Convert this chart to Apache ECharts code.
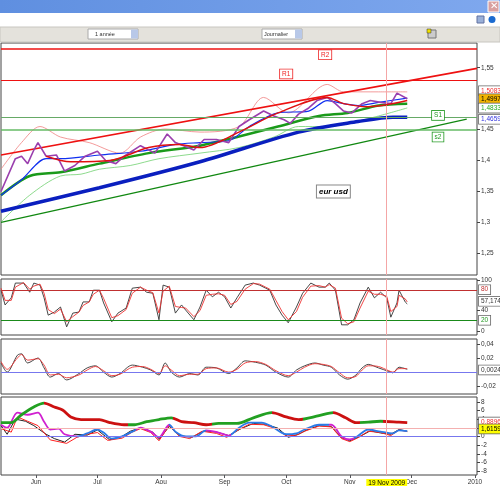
<!DOCTYPE html>
<html>
<head>
<meta charset="utf-8">
<script src="https://cdn.jsdelivr.net/npm/echarts@6/dist/echarts.min.js"></script>
<style>html,body{margin:0;padding:0;background:#fff}#chart{width:500px;height:486px}</style>
</head>
<body>
<div id="chart"></div>
<script>
// days counted from 15 May 2009
const monthDays = [17, 47, 78, 109, 139, 170, 200, 231];
const monthLabels = ['Jun', 'Jul', 'Aou', 'Sep', 'Oct', 'Nov', 'Dec', '2010'];
const cursorDay = 188;
const cursorLabel = '19 Nov 2009';

const priceTicks = [1.25, 1.3, 1.35, 1.4, 1.45, 1.55];
const stochTicks = [0, 40, 100];
const macdTicks = [-0.02, 0.02, 0.04];
const dmiTicks = [-8, -6, -4, -2, 0, 2, 4, 6, 8];

const price = [[0,1.35],[7,1.403],[10,1.407],[13,1.395],[16,1.417],[18,1.429],[22,1.407],[27,1.409],[31,1.383],[36,1.392],[41,1.407],[47,1.415],[51,1.40],[56,1.395],[60,1.407],[68,1.424],[75,1.412],[81,1.443],[85,1.429],[89,1.424],[94,1.417],[99,1.434],[105,1.434],[111,1.429],[116,1.455],[121,1.466],[128,1.48],[133,1.472],[138,1.466],[141,1.46],[145,1.475],[150,1.485],[154,1.497],[159,1.502],[163,1.492],[167,1.48],[171,1.477],[176,1.492],[180,1.497],[185,1.494],[190,1.492],[193,1.509],[198,1.50]];
const maSlow = [[0,1.318],[48,1.356],[97,1.398],[145,1.446],[174,1.463],[191,1.470],[198,1.470]];
const maMid = [[0,1.344],[14,1.375],[29,1.381],[48,1.395],[72,1.412],[97,1.424],[116,1.439],[135,1.455],[155,1.472],[169,1.477],[184,1.489],[198,1.492]];
const maFast = [[0,1.344],[10,1.369],[22,1.403],[29,1.403],[48,1.409],[68,1.415],[85,1.426],[97,1.429],[111,1.432],[121,1.455],[135,1.477],[150,1.480],[159,1.497],[167,1.492],[174,1.489],[184,1.494],[198,1.501]];
const maShort = [[22,1.407],[34,1.398],[53,1.40],[72,1.421],[87,1.426],[97,1.421],[116,1.446],[135,1.477],[159,1.502],[167,1.492],[179,1.487],[198,1.497]];
const bandUp = [[0,1.386],[10,1.429],[19,1.455],[29,1.438],[43,1.429],[58,1.412],[68,1.438],[80,1.451],[97,1.446],[116,1.455],[128,1.502],[140,1.477],[159,1.523],[167,1.511],[184,1.511],[198,1.511]];
const bandLow = [[0,1.301],[14,1.344],[29,1.375],[39,1.378],[48,1.386],[63,1.392],[77,1.403],[97,1.412],[116,1.421],[133,1.438],[145,1.455],[159,1.455],[169,1.460],[184,1.472],[198,1.485]];
const trendUp = [[0,1.409],[232,1.549]];
const trendLow = [[0,1.30],[227,1.467]];
const levels = { R2: 1.579, R1: 1.531, S1: 1.468, s2: 1.448 };

const stochK = [[0,80],[2,51],[5,65],[7,94],[11,94],[14,76],[16,94],[19,90],[21,65],[23,31],[26,37],[29,47],[32,8],[35,35],[38,37],[40,57],[43,57],[45,80],[48,80],[50,55],[54,18],[57,35],[61,45],[64,84],[68,86],[71,76],[74,74],[77,22],[79,90],[82,86],[85,35],[88,51],[90,41],[94,22],[97,47],[100,80],[103,67],[106,76],[109,67],[112,45],[115,65],[119,90],[123,94],[126,90],[129,84],[131,80],[134,51],[137,31],[140,16],[144,47],[147,74],[151,94],[155,86],[158,86],[160,94],[163,80],[166,12],[169,12],[172,22],[175,55],[179,86],[182,65],[185,76],[188,65],[190,27],[193,55],[194,80],[197,57],[198,53]];
const stochD = [[0,84],[2,60],[5,60],[7,86],[11,95],[14,82],[16,88],[19,92],[21,74],[23,42],[26,34],[29,43],[32,18],[35,28],[38,37],[40,50],[43,57],[45,72],[48,80],[50,64],[54,26],[57,30],[61,42],[64,74],[68,86],[71,80],[74,75],[77,35],[79,78],[82,88],[85,48],[88,46],[90,45],[94,28],[97,40],[100,70],[103,72],[106,73],[109,70],[112,52],[115,58],[119,82],[123,93],[126,92],[129,86],[131,82],[134,60],[137,38],[140,22],[144,38],[147,66],[151,88],[155,89],[158,86],[160,91],[163,84],[166,25],[169,14],[172,18],[175,45],[179,78],[182,72],[185,72],[188,68],[190,38],[193,48],[194,70],[197,63],[198,57]];

const macd = [[0,0.013],[3,0],[8,0.024],[10,0.026],[13,0.013],[18,0.02],[21,0.006],[24,-0.007],[28,-0.002],[32,-0.011],[38,-0.002],[42,0.006],[46,0.009],[50,0],[54,-0.007],[58,-0.002],[64,0.01],[69,0.007],[73,0.003],[77,-0.004],[80,0.013],[83,0],[87,-0.007],[92,-0.002],[96,-0.004],[100,0.007],[105,0.006],[111,-0.002],[115,0.006],[119,0.016],[124,0.014],[129,0.01],[134,0],[140,-0.007],[144,0.003],[148,0.009],[153,0.013],[157,0.01],[161,0.007],[165,-0.004],[169,-0.01],[173,-0.004],[176,0.006],[179,0.011],[184,0.006],[189,0.001],[191,-0.001],[194,0.007],[198,0.004]];
const macdSig = [[0,0.015],[3,0.004],[8,0.02],[10,0.025],[13,0.017],[18,0.019],[21,0.01],[24,-0.004],[28,-0.003],[32,-0.008],[38,-0.004],[42,0.003],[46,0.008],[50,0.002],[54,-0.005],[58,-0.003],[64,0.007],[69,0.008],[73,0.004],[77,-0.002],[80,0.009],[83,0.003],[87,-0.005],[92,-0.003],[96,-0.003],[100,0.005],[105,0.006],[111,0],[115,0.004],[119,0.013],[124,0.015],[129,0.011],[134,0.002],[140,-0.005],[144,0],[148,0.007],[153,0.012],[157,0.011],[161,0.008],[165,-0.001],[169,-0.008],[173,-0.006],[176,0.003],[179,0.009],[184,0.008],[189,0.002],[191,0],[194,0.005],[198,0.005]];

const adx = [[0,3.2],[5,3.2],[10,5],[16,6.8],[21,7.7],[26,6.8],[30,6.1],[34,4.5],[39,3.9],[48,3.9],[53,3.2],[60,2.7],[65,2.7],[71,3.4],[77,3.9],[83,4.3],[88,3.4],[94,3.2],[100,2.7],[106,3],[115,3],[123,4.3],[132,5.5],[139,4.5],[145,3.9],[155,4.8],[162,5.5],[168,4.3],[173,3.2],[179,3.3],[185,3.5],[194,3.3],[198,3.2]];
const diPlus = [[0,2.7],[3,2],[8,5.5],[13,5],[18,5.5],[21,3.4],[24,1.6],[28,1.8],[31,0.5],[37,0],[42,0.7],[47,1.6],[50,0.9],[54,-0.5],[59,0],[64,1.1],[68,2],[73,1.1],[77,-0.2],[82,2.7],[85,1.1],[90,0],[95,0],[100,1.4],[106,0.9],[111,0.2],[116,2],[121,3.2],[127,3.2],[132,2.3],[139,0.5],[144,0.7],[148,1.6],[155,2.7],[161,2.7],[166,0],[170,-0.7],[173,-0.2],[179,1.6],[185,1.1],[191,0.7],[194,1.4],[198,1.2]];
const diRed = [[0,1.8],[5,1.0],[8,4.5],[13,3.5],[18,2.5],[24,-0.8],[32,-1.6],[37,-0.2],[42,0.5],[47,0.9],[52,-0.9],[59,-0.4],[64,1],[68,1.8],[73,0.9],[77,-1],[82,2.5],[87,0],[92,-0.5],[98,1.2],[105,0.7],[110,-0.2],[116,1.6],[121,2.8],[128,2.7],[134,1.8],[139,0.1],[144,0.3],[148,1.2],[155,2.4],[161,2.2],[166,-0.5],[170,-1.2],[174,-0.3],[179,1.2],[185,0.9],[190,0.2],[194,1.5],[198,1.1]];
const diBlack = [[0,2.5],[3,0.5],[7,4],[12,3.5],[16,2.5],[22,0.5],[26,-0.5],[31,-1.3],[36,0.5],[42,0.3],[47,1.5],[53,-0.8],[59,0],[63,1.2],[68,2],[74,1],[77,-0.7],[82,2.3],[87,0.2],[93,-0.2],[99,1.3],[105,1],[111,0.2],[117,1.8],[123,3],[129,2.8],[135,1.9],[140,-0.2],[145,0.5],[149,1.5],[155,2.5],[161,2.3],[166,-0.3],[170,-1],[175,0],[180,1.3],[185,0.8],[190,0.5],[194,1.6],[198,1.2]];

const FONT = 'Liberation Sans';
const chart = echarts.init(document.getElementById('chart'));

const tops = [43, 279, 339, 397];
const heights = [232, 56, 55, 79];
const grids = tops.map((t, i) => ({
  left: 1, right: 23, top: t, height: heights[i],
  show: true, borderColor: '#444', borderWidth: 1, backgroundColor: '#fff'
}));

const xAxes = tops.map((t, i) => ({
  type: 'value', gridIndex: i, min: 0, max: 232,
  splitLine: { show: false }, axisLine: { show: false, onZero: false },
  axisTick: { show: i === 3, customValues: monthDays, length: 3 },
  axisLabel: {
    show: i === 3, customValues: monthDays, fontSize: 6.5, fontFamily: FONT, color: '#333', margin: 4,
    formatter: v => monthLabels[monthDays.indexOf(Math.round(v))] || ''
  }
}));

function yAx(i, min, max, ticks, fmt) {
  return {
    type: 'value', gridIndex: i, min, max, position: 'right',
    splitLine: { show: false }, axisLine: { show: false, onZero: false },
    axisTick: { show: true, customValues: ticks, length: 3, lineStyle: { color: '#444' } },
    axisLabel: { customValues: ticks, fontSize: 6.5, fontFamily: FONT, color: '#333', margin: 4, formatter: fmt }
  };
}
const comma = v => String(+v.toFixed(4)).replace('.', ',');
const yAxes = [
  yAx(0, 1.215, 1.59, priceTicks, comma),
  yAx(1, -8, 102, stochTicks, v => String(v)),
  yAx(2, -0.031, 0.047, macdTicks, comma),
  yAx(3, -8.9, 9.1, dmiTicks, v => String(v))
];

const CURSOR_STYLE = { color: '#f4a6a6', width: 1, type: 'solid' };
const hline = (v, color, w) => ({ yAxis: v, lineStyle: { color, width: w, type: 'solid' } });
const marks = (data) => ({ silent: true, symbol: 'none', animation: false, label: { show: false }, data });

function line(i, data, color, width, extra) {
  const s = {
    type: 'line', xAxisIndex: i, yAxisIndex: i, data, symbol: 'none', smooth: 0.3,
    lineStyle: { width }, z: 3, animation: false
  };
  if (color) { s.lineStyle.color = color; s.itemStyle = { color }; }
  return Object.assign(s, extra || {});
}

const series = [
  line(0, bandUp, '#f08080', 0.8),
  line(0, bandLow, '#70d070', 0.8),
  line(0, trendUp, '#ee1111', 1.6, { smooth: false }),
  line(0, trendLow, '#118811', 1.2, { smooth: false,
    markLine: marks([hline(levels.R2, '#ee1111', 1.5), hline(levels.R1, '#ee1111', 1.2),
                     hline(levels.S1, '#66aa66', 1), hline(levels.s2, '#66bb66', 1.5)]) }),
  line(0, maSlow, '#0a1fbf', 3.5),
  line(0, maMid, '#1a9a1a', 2.5),
  line(0, maFast, '#1030f0', 1.2),
  line(0, price, '#9a3fae', 1.6, { smooth: false, z: 4,
    markLine: marks([{ xAxis: cursorDay, lineStyle: CURSOR_STYLE }]) }),
  line(0, maShort, '#e01010', 1.4, { z: 5 }),
  line(1, stochK, '#333', 0.9, { smooth: false,
    markLine: marks([hline(80, '#c03030', 1.2), hline(20, '#1a8a1a', 1.2), { xAxis: cursorDay, lineStyle: CURSOR_STYLE }]) }),
  line(1, stochD, '#ee3333', 0.9, { smooth: false }),
  line(2, macd, '#333', 0.9, {
    markLine: marks([hline(0, '#7777ee', 1), { xAxis: cursorDay, lineStyle: CURSOR_STYLE }]) }),
  line(2, macdSig, '#ee3333', 0.9),
  line(3, diBlack, '#222', 1, { smooth: false,
    markLine: marks([hline(0, '#7777ee', 1), hline(1.8, '#f4b0b0', 1),
      { xAxis: cursorDay, lineStyle: CURSOR_STYLE,
        label: { show: true, position: 'start', formatter: cursorLabel, fontSize: 6.5, fontFamily: FONT,
          color: '#000', backgroundColor: '#ffff00', padding: [1, 2], distance: 4 } }]) }),
  line(3, diRed, '#ff2020', 1, { smooth: false }),
  line(3, diPlus, null, 1.8),
  line(3, adx, null, 2.8)
];

const idxPlus = series.length - 2, idxAdx = series.length - 1;

chart.setOption({
  animation: false,
  grid: grids, xAxis: xAxes, yAxis: yAxes, series,
  visualMap: [
    { show: false, type: 'piecewise', seriesIndex: idxPlus, dimension: 0,
      pieces: [{ lt: 37, color: '#d020d0' }, { gte: 37, lt: 66, color: '#2a7ae8' }, { gte: 66, lt: 82, color: '#d020d0' },
               { gte: 82, lt: 100, color: '#2a7ae8' }, { gte: 100, lt: 112, color: '#d020d0' }, { gte: 112, lt: 160, color: '#2a7ae8' },
               { gte: 160, lt: 172, color: '#d020d0' }, { gte: 172, color: '#2a7ae8' }] },
    { show: false, type: 'piecewise', seriesIndex: idxAdx, dimension: 0,
      pieces: [{ lt: 21, color: '#22a022' }, { gte: 21, lt: 62, color: '#cc1111' }, { gte: 62, lt: 84, color: '#22a022' },
               { gte: 84, lt: 103, color: '#cc1111' }, { gte: 103, lt: 132, color: '#22a022' }, { gte: 132, lt: 147, color: '#cc1111' },
               { gte: 147, lt: 162, color: '#22a022' }, { gte: 162, lt: 175, color: '#cc1111' }, { gte: 175, lt: 186, color: '#22a022' },
               { gte: 186, color: '#cc1111' }] }
  ]
});

// chrome and value tags
const px = (i, d, v) => chart.convertToPixel({ xAxisIndex: i, yAxisIndex: i }, [d, v]);
function tag(i, v, text, color, bg) {
  const p = px(i, 0, v);
  return { type: 'text', x: 479, y: p[1] - 5, z: 20,
    style: { text, fontSize: 6.5, fontFamily: FONT, fill: color, backgroundColor: bg || '#fff',
      borderColor: '#666', borderWidth: 0.8, padding: [1, 2] } };
}
function box(i, d, v, text, color) {
  const p = px(i, d, v);
  return { type: 'text', x: p[0], y: p[1], z: 20,
    style: { text, fontSize: 6.5, fontFamily: FONT, fill: color, backgroundColor: '#fff',
      borderColor: color, borderWidth: 0.8, padding: [1, 2], align: 'center', verticalAlign: 'middle' } };
}
const ep = px(0, 162, 1.35);
chart.setOption({
  graphic: [
    { type: 'rect', shape: { x: 0, y: 0, width: 500, height: 13 }, style: {
      fill: new echarts.graphic.LinearGradient(0, 0, 1, 0, [{ offset: 0, color: '#5f8fe0' }, { offset: 1, color: '#7fa8ee' }]) } },
    { type: 'rect', shape: { x: 488, y: 1, width: 11, height: 11 }, style: { fill: '#d9a0a0', stroke: '#fff' } },
    { type: 'text', x: 490, y: 1, style: { text: '✕', fontSize: 10, fill: '#fff', fontFamily: FONT } },
    { type: 'rect', shape: { x: 477, y: 16, width: 7, height: 7 }, style: { fill: '#9ab0d8', stroke: '#6070a0' } },
    { type: 'circle', shape: { cx: 492, cy: 19.5, r: 3.5 }, style: { fill: '#1a6ad0' } },
    { type: 'rect', shape: { x: 0, y: 27, width: 500, height: 15 }, style: { fill: '#e4e2dc', stroke: '#c8c6c0' } },
    { type: 'rect', shape: { x: 88, y: 29, width: 50, height: 10 }, style: { fill: '#fff', stroke: '#aaa' } },
    { type: 'text', x: 95, y: 31, style: { text: '1 année', fontSize: 5.5, fontFamily: FONT, fill: '#333' } },
    { type: 'rect', shape: { x: 131, y: 29.5, width: 7, height: 9 }, style: { fill: '#b8c8e8' } },
    { type: 'rect', shape: { x: 262, y: 29, width: 40, height: 10 }, style: { fill: '#fff', stroke: '#aaa' } },
    { type: 'text', x: 264, y: 31, style: { text: 'Journalier', fontSize: 5.5, fontFamily: FONT, fill: '#333' } },
    { type: 'rect', shape: { x: 295, y: 29.5, width: 7, height: 9 }, style: { fill: '#b8c8e8' } },
    { type: 'rect', shape: { x: 428, y: 30, width: 8, height: 8 }, style: { fill: '#ccc', stroke: '#777' } },
    { type: 'rect', shape: { x: 427, y: 29, width: 4, height: 4 }, style: { fill: '#f0e000', stroke: '#333', lineWidth: 0.5 } },
    box(0, 158, 1.571, 'R2', '#ee2222'),
    box(0, 139, 1.540, 'R1', '#ee2222'),
    box(0, 213, 1.473, 'S1', '#229922'),
    box(0, 213, 1.438, 's2', '#229922'),
    { type: 'text', x: ep[0], y: ep[1], z: 20, style: { text: 'eur usd', fontSize: 8, fontWeight: 'bold', fontStyle: 'italic',
      fontFamily: FONT, fill: '#000', backgroundColor: '#fff', borderColor: '#888', borderWidth: 1, padding: [2, 2],
      align: 'center', verticalAlign: 'middle' } },
    tag(0, 1.512, '1,5083', '#ee3333'),
    tag(0, 1.499, '1,4997', '#000', '#f2b400'),
    tag(0, 1.484, '1,4833', '#22aa22'),
    tag(0, 1.4659, '1,4659', '#3333dd'),
    tag(1, 80, '80', '#c03030'),
    tag(1, 57.174, '57,174', '#333'),
    tag(1, 20, '20', '#229922'),
    tag(2, 0.0024, '0,0024', '#333'),
    tag(3, 3.2, '0,8896', '#ee3333'),
    tag(3, 1.6159, '1,6159', '#000', '#ffff00')
  ]
});
</script>
</body>
</html>
